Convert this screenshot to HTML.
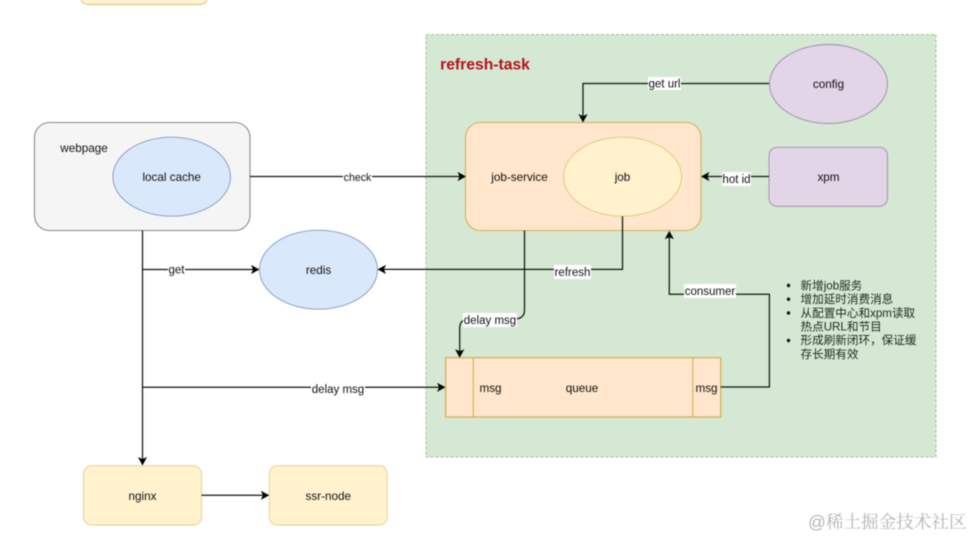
<!DOCTYPE html>
<html>
<head>
<meta charset="utf-8">
<style>
html,body{margin:0;padding:0;background:#fff;width:974px;height:539px;overflow:hidden}
svg{display:block;filter:blur(0.45px)}
text{font-family:"Liberation Sans","Noto Sans CJK SC",sans-serif;font-size:11.7px;fill:#111;text-anchor:middle}
.l{font-size:11.5px}
.cn{font-size:11.6px;text-anchor:start;fill:#1c2a1c}
.ln{fill:none;stroke:#0c160c;stroke-width:1.25}
.ar{fill:#000}
.w{fill:#fff}
</style>
</head>
<body>
<svg width="974" height="539" viewBox="0 0 974 539" xmlns="http://www.w3.org/2000/svg">
<rect x="80.5" y="-30" width="127" height="34.5" rx="7" fill="#fff2cc" stroke="#d9c27a"/>

<rect x="426" y="34.5" width="510" height="422.5" fill="#d5e8d4" stroke="#8fb37a" stroke-dasharray="3 2" stroke-width="0.8"/>
<text x="485" y="69.5" style="font-size:15.7px;font-weight:bold;fill:#b5121b">refresh-task</text>

<rect x="34.5" y="122.5" width="215.5" height="108" rx="15" fill="#f5f5f5" stroke="#8a8a8a" stroke-width="1.1"/>
<ellipse cx="171.7" cy="176.7" rx="58.8" ry="39.5" fill="#dae8fc" stroke="#8199bd" stroke-width="0.9"/>
<ellipse cx="318.5" cy="269.7" rx="59" ry="39.5" fill="#dae8fc" stroke="#8199bd" stroke-width="0.9"/>

<rect x="465.5" y="122.5" width="235.5" height="108" rx="15" fill="#ffe6cc" stroke="#d9ae55" stroke-width="1.1"/>
<ellipse cx="622.5" cy="176.7" rx="59" ry="39.5" fill="#fff2cc" stroke="#dcc67e" stroke-width="0.9"/>
<ellipse cx="828.5" cy="84" rx="59" ry="39.5" fill="#e1d5e7" stroke="#9d8ba8" stroke-width="0.9"/>
<rect x="769" y="147.3" width="118.5" height="59" rx="8" fill="#e1d5e7" stroke="#9d8ba8" stroke-width="0.9"/>

<rect x="445.7" y="357.7" width="275" height="59.3" fill="#ffe6cc" stroke="#d9ae55" stroke-width="1.3"/>
<path d="M473.3 357.7V417M692.8 357.7V417" stroke="#d9ae55" stroke-width="1.1" fill="none"/>

<rect x="83.5" y="465.7" width="118" height="59.3" rx="8" fill="#fff2cc" stroke="#dfcf95" stroke-width="0.9"/>
<rect x="269.3" y="465.7" width="118" height="59.3" rx="8" fill="#fff2cc" stroke="#dfcf95" stroke-width="0.9"/>

<!-- connectors -->
<path class="ln" d="M250 176.5H460"/>
<path class="ar" d="M466 176.5l-8.5-4.6 2.1 4.6-2.1 4.6z"/>
<path class="ln" d="M142.5 230.5V460"/>
<path class="ar" d="M142.5 465.5l-4.6-8.5 4.6 2.1 4.6-2.1z"/>
<path class="ln" d="M142.5 269.5H254"/>
<path class="ar" d="M259.5 269.5l-8.5-4.6 2.1 4.6-2.1 4.6z"/>
<path class="ln" d="M142.5 387.3H440"/>
<path class="ar" d="M445.5 387.3l-8.5-4.6 2.1 4.6-2.1 4.6z"/>
<path class="ln" d="M201.5 495.3H264"/>
<path class="ar" d="M269.3 495.3l-8.5-4.6 2.1 4.6-2.1 4.6z"/>

<path class="ln" d="M769 83.5H583V117"/>
<path class="ar" d="M583 122.5l-4.6-8.5 4.6 2.1 4.6-2.1z"/>
<path class="ln" d="M769 176.5H706"/>
<path class="ar" d="M701 176.5l8.5-4.6-2.1 4.6 2.1 4.6z"/>
<path class="ln" d="M622.5 216.2V269.4H383"/>
<path class="ar" d="M377.5 269.4l8.5-4.6-2.1 4.6 2.1 4.6z"/>
<path class="ln" d="M524.5 230.5V310Q524.5 318 516 319H468Q459.7 320 459.7 328V352"/>
<path class="ar" d="M459.7 357.7l-4.6-8.5 4.6 2.1 4.6-2.1z"/>
<path class="ln" d="M720.7 387H769.4V294.3H669.3V236"/>
<path class="ar" d="M669.3 230.8l-4.6 8.5 4.6-2.1 4.6 2.1z"/>

<!-- edge labels -->
<rect x="343" y="171" width="29" height="12" class="w"/>
<text x="357.5" y="181" style="font-size:10.6px">check</text>
<rect x="168" y="263" width="17" height="13" class="w"/>
<text x="176.5" y="273.5" class="l">get</text>
<rect x="311" y="381" width="54" height="13" class="w"/>
<text x="338" y="393" class="l">delay msg</text>

<rect x="648" y="77" width="33" height="13" class="w"/>
<text x="664.5" y="87.5" class="l">get url</text>
<rect x="722" y="172" width="29" height="14" class="w"/>
<text x="736.5" y="183" class="l">hot id</text>
<rect x="554" y="265" width="37" height="14" class="w"/>
<text x="572.5" y="276" class="l">refresh</text>
<rect x="463" y="313" width="54" height="14" class="w"/>
<text x="490" y="324" class="l">delay msg</text>
<rect x="684" y="284" width="52" height="14" class="w"/>
<text x="710" y="295" class="l">consumer</text>

<!-- node labels -->
<text x="84" y="152">webpage</text>
<text x="171.7" y="181">local cache</text>
<text x="318.5" y="274">redis</text>
<text x="519.5" y="181">job-service</text>
<text x="622.5" y="181">job</text>
<text x="828.5" y="88">config</text>
<text x="828.5" y="181">xpm</text>
<text x="490.5" y="392">msg</text>
<text x="582" y="392">queue</text>
<text x="706.5" y="392">msg</text>
<text x="142.5" y="500">nginx</text>
<text x="328.3" y="500">ssr-node</text>

<!-- list -->
<circle cx="788.5" cy="285.5" r="1.7" fill="#111"/>
<circle cx="788.5" cy="299.2" r="1.7" fill="#111"/>
<circle cx="788.5" cy="313" r="1.7" fill="#111"/>
<circle cx="788.5" cy="340.5" r="1.7" fill="#111"/>
<text class="cn" x="800.5" y="289.3">新增job服务</text>
<text class="cn" x="800.5" y="303">增加延时消费消息</text>
<text class="cn" x="800.5" y="316.8">从配置中心和xpm读取</text>
<text class="cn" x="800.5" y="330.5">热点URL和节目</text>
<text class="cn" x="800.5" y="344.2">形成刷新闭环，保证缓</text>
<text class="cn" x="800.5" y="358">存长期有效</text>

<!-- watermark -->
<text x="808" y="528" style="font-size:17.6px;text-anchor:start;fill:#b4b4b4;font-family:'Liberation Sans','Noto Serif CJK SC',serif">@稀土掘金技术社区</text>
</svg>
</body>
</html>
